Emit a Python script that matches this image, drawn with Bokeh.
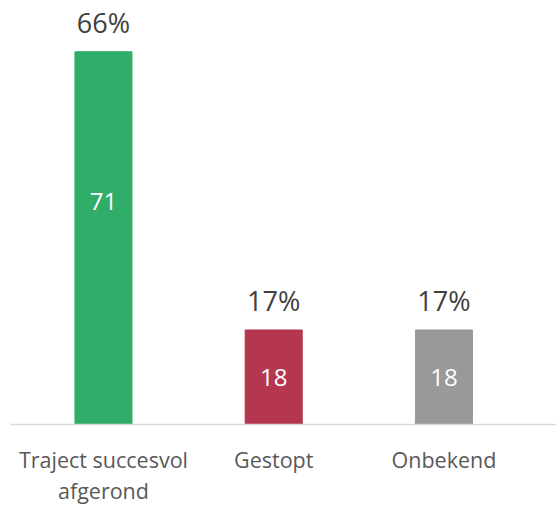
from bokeh.plotting import figure
from bokeh.models import ColumnDataSource, FixedTicker, Range1d
from bokeh.embed import file_html
from bokeh.resources import INLINE
from bokeh.core.properties import value

categories = ["Traject succesvol\nafgerond", "Gestopt", "Onbekend"]
counts = [71, 18, 18]
percents = ["66%", "17%", "17%"]
colors = ["#30AD68", "#B4364F", "#999999"]

FONT = "Open Sans"
label_px_shift = [-37, 0, 0]  # style: pixel shift of inner labels

xs = list(range(len(categories)))
src = ColumnDataSource(dict(
    x=xs, top=counts, color=colors, pct=percents,
))

p = figure(frame_width=546, frame_height=424, output_backend="svg", toolbar_location=None,
           x_range=Range1d(-0.546, 2.661), y_range=Range1d(0, 80.76),
           min_border_left=10, min_border_right=0, min_border_top=0,
           min_border_bottom=0)
p.outline_line_color = None
p.xgrid.visible = False
p.ygrid.visible = False
p.yaxis.visible = False
p.background_fill_color = "white"
p.border_fill_color = "white"

p.vbar(x="x", top="top", bottom=0, width=0.335, color="color", source=src)

p.text(x="x", y="top", text="pct", source=src, text_align="center",
       text_baseline="alphabetic", y_offset=-29, text_color="#404040",
       text_font=value(FONT), text_font_size="27px")

for i in xs:
    sub = ColumnDataSource(dict(x=[xs[i]], y=[counts[i] / 2], t=[str(counts[i])]))
    p.text(x="x", y="y", text="t", source=sub, text_align="center",
           text_baseline="middle", y_offset=label_px_shift[i], text_color="white",
           text_font=value(FONT), text_font_size="24px")

ax = p.xaxis[0]
ax.ticker = FixedTicker(ticks=xs)
ax.major_label_overrides = {i: c for i, c in zip(xs, categories)}
ax.major_tick_line_color = None
ax.minor_tick_line_color = None
ax.axis_line_color = "#D9D9D9"
ax.axis_line_width = 1.5
ax.major_label_text_font = FONT
ax.major_label_text_font_size = "21.5px"
ax.major_label_text_color = "#595959"
ax.major_label_standoff = 14
ax.major_label_text_line_height = 1.1

open("out.html", "w").write(file_html(p, INLINE))
